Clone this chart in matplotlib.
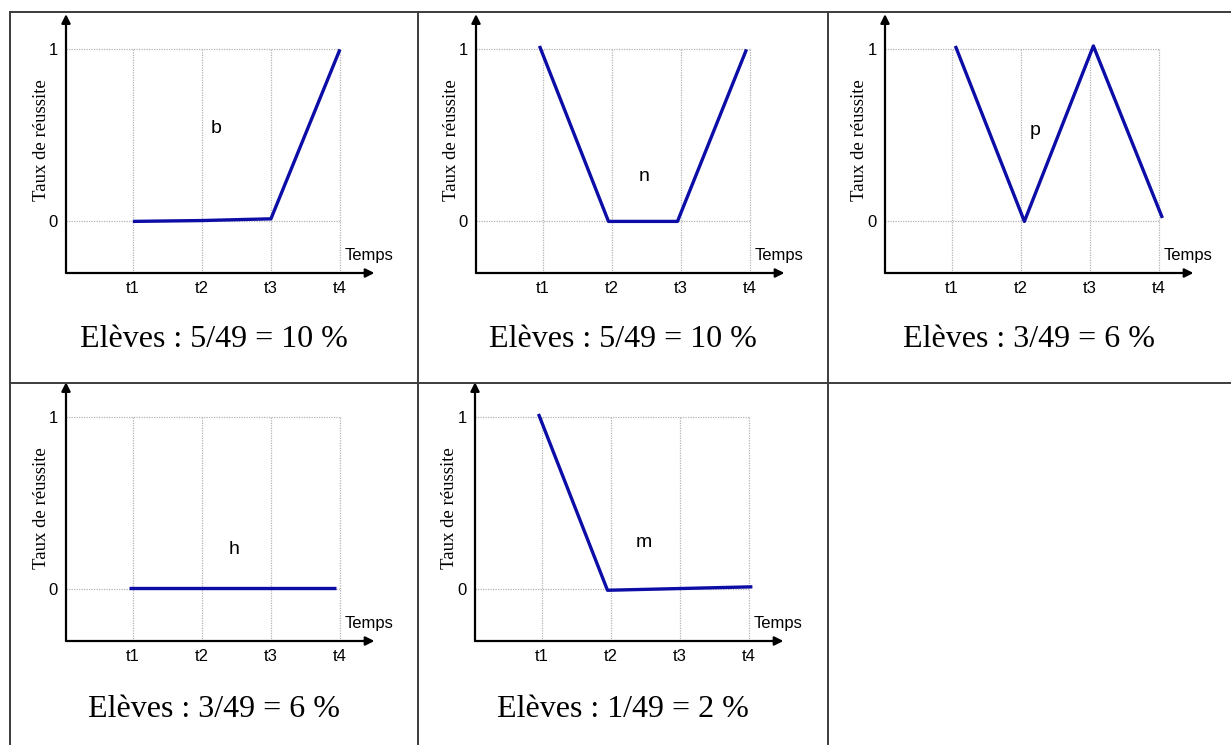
import matplotlib
matplotlib.use("Agg")
import matplotlib.pyplot as plt
from matplotlib.lines import Line2D

W, H = 1231, 745
DPI = 100

# ---- data ----
times = [1, 2, 3, 4]
time_labels = ["t1", "t2", "t3", "t4"]
ytick_vals = [0, 1]
ytick_labels = ["0", "1"]

b_x = [1, 2, 3, 4]
b_y = [0.0, 0.005, 0.015, 1.0]

n_x = [0.95, 1.95, 2.95, 3.95]
n_y = [1.02, 0.0, 0.0, 1.0]

p_x = [1.05, 2.05, 3.05, 4.05]
p_y = [1.02, 0.0, 1.02, 0.02]

h_x = [0.95, 2, 3, 3.95]
h_y = [0.01, 0.01, 0.01, 0.01]

m_x = [0.95, 1.95, 3, 4.05]
m_y = [1.02, -0.005, 0.005, 0.015]

labels = ["b", "n", "p", "h", "m"]
label_pos = [(2.2, 0.54), (2.46, 0.26), (2.2, 0.53), (2.46, 0.23), (2.47, 0.27)]
captions = ["Elèves : 5/49 = 10 %", "Elèves : 5/49 = 10 %", "Elèves : 3/49 = 6 %",
            "Elèves : 3/49 = 6 %", "Elèves : 1/49 = 2 %"]
series = [(b_x, b_y), (n_x, n_y), (p_x, p_y), (h_x, h_y), (m_x, m_y)]

# ---- layout (pixels) ----
# (y-axis x position, x-axis y position, caption center x, caption baseline y)
panels = [(66, 273, 214, 347), (476, 273, 623, 347), (885, 273, 1029, 347),
          (66, 641, 214, 717), (475, 641, 623, 717)]
XMIN, XMAX = 0.03, 4.5
YMIN, YMAX = -0.30, 1.19
PX_X = 69.0
PX_Y = 172.0

fig = plt.figure(figsize=(W / DPI, H / DPI), dpi=DPI)
fig.patch.set_facecolor("white")

def fx(x):
    return x / W

def fy(y):
    return 1 - y / H

# table lines
tcol = "#3c3c3c"
tlw = 1.4
for (x0, y0, x1, y1) in [(10, 12, W, 12), (10, 383, W, 383),
                         (10, 12, 10, H), (418, 12, 418, H), (828, 12, 828, H)]:
    fig.add_artist(Line2D([fx(x0), fx(x1)], [fy(y0), fy(y1)], color=tcol, lw=tlw,
                          transform=fig.transFigure))

line_color = "#0c0ca6"
grid_color = "#b4b4b4"

for i, (ax_x, ax_y, cap_x, cap_y) in enumerate(panels):
    wpx = (XMAX - XMIN) * PX_X
    hpx = (YMAX - YMIN) * PX_Y
    ax = fig.add_axes([fx(ax_x), fy(ax_y), wpx / W, hpx / H])
    ax.set_xlim(XMIN, XMAX)
    ax.set_ylim(YMIN, YMAX)
    for s in ax.spines.values():
        s.set_visible(False)
    ax.patch.set_alpha(0)

    # grid box
    ax.hlines(ytick_vals, XMIN, times[-1], colors=grid_color, linestyles=(0, (1, 1)), lw=0.9)
    ax.vlines(times, YMIN, 1, colors=grid_color, linestyles=(0, (1, 1)), lw=0.9)

    # axes arrows
    ax.annotate("", xy=(1, 0), xytext=(0, 0), xycoords="axes fraction",
                arrowprops=dict(arrowstyle="-|>", color="black", lw=1.6,
                                mutation_scale=13, shrinkA=0, shrinkB=0))
    ax.annotate("", xy=(0, 1.01), xytext=(0, 0), xycoords="axes fraction",
                arrowprops=dict(arrowstyle="-|>", color="black", lw=1.6,
                                mutation_scale=13, shrinkA=0, shrinkB=0))

    ax.set_xticks(times)
    ax.set_xticklabels(time_labels, fontsize=12, family="Liberation Sans")
    ax.set_yticks(ytick_vals)
    ax.set_yticklabels(ytick_labels, fontsize=12, family="Liberation Sans")
    ax.tick_params(length=0, pad=6)

    sx, sy = series[i]
    ax.plot(sx, sy, color=line_color, lw=2.4, solid_capstyle="butt", clip_on=False)

    lx, ly = label_pos[i]
    ax.text(lx, ly, labels[i], fontsize=14, family="Liberation Sans",
            ha="center", va="center")
    ax.text(4.07, -0.20, "Temps", fontsize=12, family="Liberation Sans",
            ha="left", va="center")
    ax.text(-25 / wpx, 133 / hpx, "Taux de réussite",
            transform=ax.transAxes, rotation=90, fontsize=13.5,
            family="Liberation Serif", ha="center", va="center")

    fig.text(fx(cap_x), fy(cap_y), captions[i], fontsize=23,
             family="Liberation Serif", ha="center", va="baseline")

fig.savefig("out.png", dpi=DPI, facecolor="white")
